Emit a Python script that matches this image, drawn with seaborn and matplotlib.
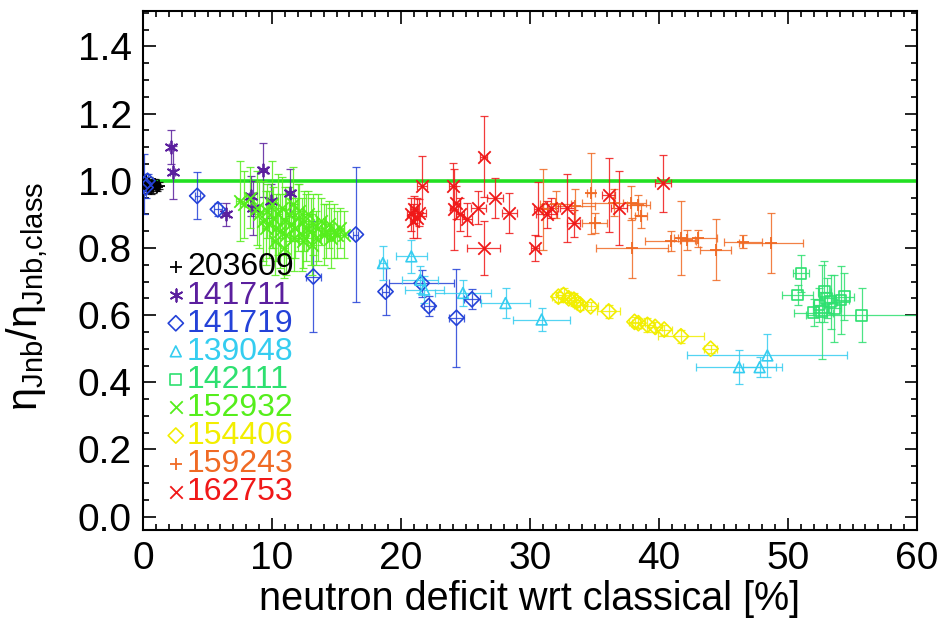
import matplotlib
matplotlib.use("Agg")
import matplotlib.pyplot as plt
import seaborn as sns
import pandas as pd
from matplotlib.ticker import MultipleLocator

# ---------------- data ----------------
shots = ['203609', '141711', '141719', '139048', '142111',
         '152932', '154406', '159243', '162753']
colors = ['#000000', '#5b1f9e', '#2442d8', '#35cdf0', '#2ee070',
          '#55ee1c', '#f2ee00', '#f06a24', '#f01818']
markers = ['+', (6, 2, 0), 'D', '^', 's', 'x', 'D', '+', 'x']
open_marker = [False, False, True, True, True, False, True, False, False]

x_203609 = [0.1, 0.25, 0.4, 0.5, 0.6, 0.75, 0.9, 1.05, 1.2]
y_203609 = [0.99, 1.00, 0.98, 0.99, 0.975, 0.985, 0.99, 0.98, 0.985]
ye_203609 = [0.02, 0.02, 0.015, 0.02, 0.015, 0.02, 0.015, 0.01, 0.01]
xe_203609 = [0.1, 0.1, 0.1, 0.1, 0.1, 0.1, 0.1, 0.1, 0.1]

x_141711 = [2.2, 2.3, 6.4, 8.4, 8.5, 9.3, 9.9, 11.4]
y_141711 = [1.10, 1.025, 0.90, 0.955, 0.92, 1.033, 0.94, 0.965]
ye_141711 = [0.05, 0.08, 0.035, 0.06, 0.08, 0.08, 0.05, 0.07]
xe_141711 = [0.2, 0.2, 0.3, 0.2, 0.2, 0.3, 0.2, 0.3]

x_141719 = [0.1, 0.2, 0.35, 4.2, 5.8, 13.2, 16.5, 18.8, 21.6, 22.15, 24.3, 25.5]
y_141719 = [0.99, 0.98, 1.0, 0.955, 0.915, 0.715, 0.84, 0.67, 0.695, 0.627, 0.592, 0.647]
ye_141719 = [0.09, 0.03, 0.02, 0.07, 0.02, 0.165, 0.2, 0.07, 0.04, 0.03, 0.145, 0.03]
xe_141719 = [0.1, 0.1, 0.1, 0.2, 0.3, 0.6, 0.2, 0.3, 2.5, 0.4, 0.6, 0.6]

x_139048 = [18.6, 20.8, 21.5, 21.8, 24.8, 28.1, 30.9, 46.2, 47.8, 48.4]
y_139048 = [0.755, 0.775, 0.705, 0.676, 0.666, 0.636, 0.587, 0.445, 0.445, 0.48]
ye_139048 = [0.05, 0.05, 0.04, 0.04, 0.04, 0.045, 0.035, 0.05, 0.03, 0.065]
xe_139048 = [0.3, 1.2, 1.4, 1.5, 2.2, 1.9, 2.2, 3.3, 1.3, 6.2]

x_142111 = [51.0, 50.75, 52.8, 52.6, 53.3, 54.1, 53.6, 55.7, 54.35, 52.0, 53.0, 52.4]
y_142111 = [0.725, 0.66, 0.67, 0.61, 0.64, 0.645, 0.62, 0.60, 0.655, 0.607, 0.65, 0.63]
ye_142111 = [0.055, 0.03, 0.09, 0.14, 0.08, 0.1, 0.1, 0.08, 0.07, 0.04, 0.06, 0.05]
xe_142111 = [0.6, 1.2, 0.5, 0.7, 0.5, 0.6, 0.5, 4.3, 0.8, 1.5, 0.6, 0.5]

x_152932 = [7.5, 7.8, 8.3, 8.8, 9.0, 9.3, 9.6, 9.8, 10.0, 10.1, 10.3, 10.5,
            10.6, 10.8, 11.0, 11.1, 11.3, 11.5, 11.6, 11.8, 12.0, 12.1, 12.3,
            12.5, 12.6, 12.8, 13.0, 13.2, 13.4, 13.6, 13.8, 14.0, 14.2, 14.4,
            14.6, 14.8, 15.0, 15.3, 15.6, 10.2, 10.9, 11.7, 12.4, 9.5, 13.1]
y_152932 = [0.94, 0.93, 0.95, 0.92, 0.90, 0.88, 0.91, 0.87, 0.93, 0.89, 0.86,
            0.90, 0.85, 0.92, 0.88, 0.84, 0.90, 0.87, 0.93, 0.86, 0.89, 0.91,
            0.84, 0.88, 0.86, 0.90, 0.85, 0.87, 0.83, 0.86, 0.88, 0.84, 0.85,
            0.87, 0.83, 0.85, 0.84, 0.86, 0.84, 0.82, 0.80, 0.83, 0.82, 0.86,
            0.81]
ye_152932 = [0.12, 0.1, 0.09, 0.11, 0.1, 0.12, 0.08, 0.1, 0.13, 0.09, 0.1,
             0.12, 0.11, 0.09, 0.1, 0.12, 0.08, 0.1, 0.11, 0.09, 0.1, 0.08,
             0.11, 0.09, 0.1, 0.07, 0.1, 0.09, 0.08, 0.1, 0.07, 0.09, 0.08,
             0.07, 0.09, 0.08, 0.07, 0.06, 0.07, 0.1, 0.09, 0.1, 0.08, 0.11,
             0.09]
xe_152932 = [0.3, 0.3, 0.3, 0.3, 0.3, 0.3, 0.3, 0.3, 0.3, 0.3, 0.3, 0.3,
             0.3, 0.3, 0.3, 0.3, 0.3, 0.3, 0.3, 0.3, 0.3, 0.3, 0.3, 0.3,
             0.3, 0.3, 0.3, 0.3, 0.3, 0.3, 0.3, 0.3, 0.3, 0.3, 0.3, 0.3,
             0.3, 0.3, 0.3, 0.3, 0.3, 0.3, 0.3, 0.3, 0.3]

x_154406 = [32.2, 32.6, 33.0, 33.4, 33.6, 33.9, 34.7, 36.1, 38.1, 38.4,
            39.1, 39.7, 40.4, 41.7, 44.0]
y_154406 = [0.655, 0.66, 0.65, 0.646, 0.64, 0.631, 0.626, 0.611, 0.58,
            0.576, 0.571, 0.565, 0.557, 0.537, 0.50]
ye_154406 = [0.015, 0.02, 0.015, 0.02, 0.015, 0.015, 0.012, 0.02, 0.015,
             0.015, 0.02, 0.015, 0.015, 0.02, 0.012]
xe_154406 = [0.5, 0.6, 0.5, 0.5, 0.4, 0.5, 0.6, 0.9, 0.4, 0.5, 0.5, 0.5,
             0.6, 1.8, 0.5]

x_159243 = [31.0, 32.0, 33.5, 34.7, 35.0, 36.5, 37.8, 37.9, 38.4, 38.6,
            40.9, 41.7, 42.2, 43.0, 44.4, 46.5, 48.7]
y_159243 = [0.915, 0.93, 0.925, 0.963, 0.874, 0.935, 0.934, 0.80, 0.929,
            0.894, 0.82, 0.829, 0.824, 0.829, 0.795, 0.819, 0.815]
ye_159243 = [0.12, 0.04, 0.05, 0.12, 0.03, 0.04, 0.05, 0.09, 0.03, 0.035,
             0.03, 0.11, 0.03, 0.025, 0.09, 0.02, 0.09]
xe_159243 = [0.4, 1.2, 1.5, 0.3, 1.0, 2.5, 0.6, 2.8, 0.9, 0.5, 2.0, 0.5,
             0.6, 1.5, 1.2, 1.5, 2.5]

x_162753 = [20.8, 21.0, 21.2, 20.9, 21.6, 21.4, 24.0, 24.1, 24.3, 24.6,
            25.1, 26.0, 26.4, 26.4, 27.3, 28.4, 30.4, 30.6, 31.3, 31.6,
            32.9, 33.4, 36.1, 36.9, 40.3]
y_162753 = [0.90, 0.915, 0.89, 0.88, 0.985, 0.905, 0.983, 0.915, 0.935,
            0.90, 0.885, 0.92, 1.072, 0.80, 0.949, 0.904, 0.80, 0.915,
            0.90, 0.92, 0.919, 0.874, 0.958, 0.919, 0.993]
ye_162753 = [0.05, 0.04, 0.06, 0.05, 0.09, 0.04, 0.07, 0.12, 0.05, 0.05,
             0.05, 0.05, 0.12, 0.08, 0.06, 0.06, 0.04, 0.08, 0.04, 0.03,
             0.1, 0.04, 0.11, 0.11, 0.085]
xe_162753 = [0.3, 0.3, 0.3, 0.2, 0.4, 0.5, 0.3, 0.3, 0.3, 0.3, 0.4, 0.6,
             0.3, 1.3, 0.6, 0.6, 0.3, 0.3, 0.8, 0.6, 0.6, 0.5, 0.5, 0.6, 0.6]

series_x = [x_203609, x_141711, x_141719, x_139048, x_142111,
            x_152932, x_154406, x_159243, x_162753]
series_y = [y_203609, y_141711, y_141719, y_139048, y_142111,
            y_152932, y_154406, y_159243, y_162753]
series_ye = [ye_203609, ye_141711, ye_141719, ye_139048, ye_142111,
             ye_152932, ye_154406, ye_159243, ye_162753]
series_xe = [xe_203609, xe_141711, xe_141719, xe_139048, xe_142111,
             xe_152932, xe_154406, xe_159243, xe_162753]

ref_level = 1.0

# ---------------- style ----------------
sns.set_theme(style="ticks")
plt.rcParams['font.family'] = ['Liberation Sans', 'DejaVu Sans']
plt.rcParams['mathtext.fontset'] = 'custom'
plt.rcParams['mathtext.rm'] = 'Liberation Sans'
plt.rcParams['mathtext.it'] = 'Liberation Sans:italic'
plt.rcParams['text.color'] = 'black'
plt.rcParams['axes.labelcolor'] = 'black'

fig = plt.figure(figsize=(9.41, 6.20), dpi=100)
ax = fig.add_axes([0.152, 0.145, 0.8225, 0.837])

ax.axhline(ref_level, color='#22e022', lw=2.6, zorder=1)

for sid, c, m, op, xs, ys, yes, xes in zip(shots, colors, markers, open_marker,
                                           series_x, series_y, series_ye, series_xe):
    ax.errorbar(xs, ys, yerr=yes, xerr=xes, fmt='none', ecolor=c,
                elinewidth=0.9, capsize=3, capthick=0.9, alpha=0.85, zorder=2)
    df = pd.DataFrame({'x': xs, 'y': ys})
    if op:
        sns.scatterplot(data=df, x='x', y='y', marker=m, s=60,
                        facecolor='none', edgecolor=c, linewidth=1.2,
                        ax=ax, label=sid, zorder=3)
    else:
        sns.scatterplot(data=df, x='x', y='y', marker=m, s=80,
                        color=c, edgecolor=c, linewidth=1.3,
                        ax=ax, label=sid, zorder=3)

ax.set_xlim(0, 60)
ax.set_ylim(-0.04, 1.505)
ax.xaxis.set_major_locator(MultipleLocator(10))
ax.xaxis.set_minor_locator(MultipleLocator(1))
ax.yaxis.set_major_locator(MultipleLocator(0.2))
ax.yaxis.set_minor_locator(MultipleLocator(0.05))
ax.tick_params(which='both', direction='in', top=True, right=True,
               width=1.2, colors='black')
ax.tick_params(which='major', length=9, labelsize=28, pad=8)
ax.tick_params(which='minor', length=4.5)
ax.set_yticklabels([f"{v:.1f}" for v in ax.get_yticks()])
for sp in ax.spines.values():
    sp.set_linewidth(1.5)
    sp.set_color('black')

ax.set_xlabel('neutron deficit wrt classical [%]', fontsize=28.5, labelpad=2,
              color='black')
ax.set_ylabel('η$_{\\mathrm{Jnb}}$/η$_{\\mathrm{Jnb{,}class}}$', fontsize=30,
              color='black')
ax.yaxis.set_label_coords(-0.12, 0.45)

leg = ax.legend(loc='upper left', bbox_to_anchor=(0.032, 0.535), frameon=False,
                fontsize=23, labelspacing=-0.06, handlelength=0.5,
                handletextpad=0.1, borderpad=0, borderaxespad=0,
                labelcolor=colors)

fig.savefig('out.png', dpi=100)
